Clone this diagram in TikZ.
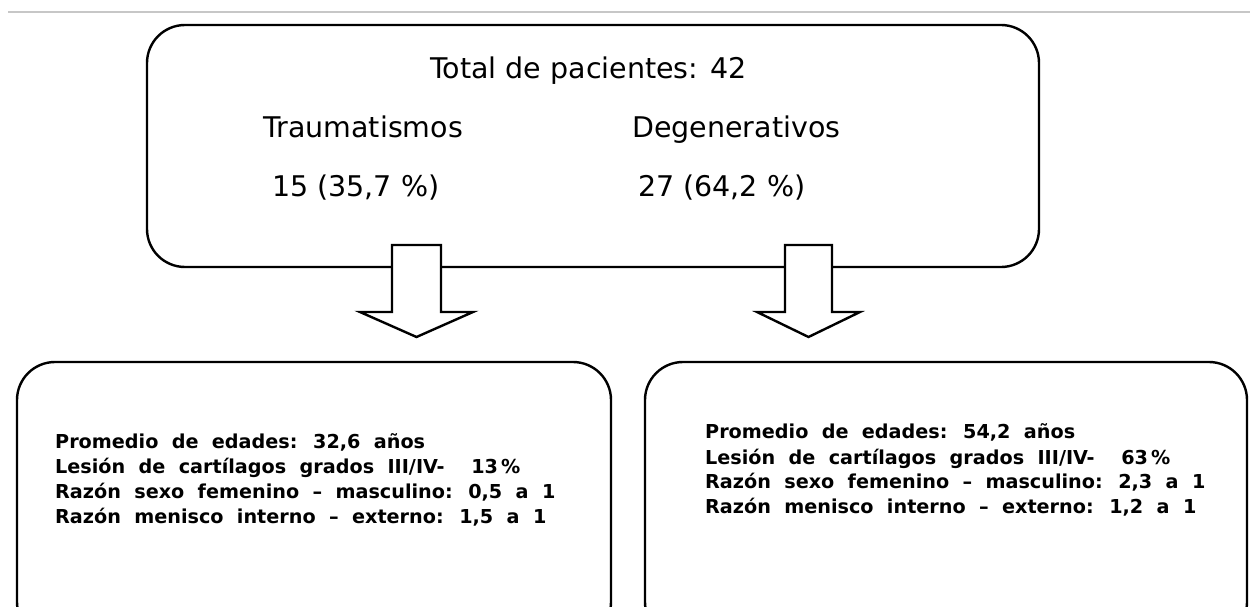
\documentclass[tikz,border=0pt]{standalone}
\usepackage{fontspec}
\setmainfont{DejaVu Sans}
\newfontfamily\botfont[WordSpace={2.0}]{DejaVu Sans}
\begin{document}
\begin{tikzpicture}[x=1pt,y=-1pt,
  boxline/.style={draw=black,line width=2.4pt,rounded corners=38pt},
  bigarrow/.style={draw=black,fill=white,line width=2.4pt,line join=miter},
  toptext/.style={anchor=base west,inner sep=0pt,font=\fontsize{28.5}{34}\selectfont},
  bottext/.style={anchor=base west,inner sep=0pt,font=\botfont\fontsize{19.2}{25}\selectfont\bfseries}]
\useasboundingbox (0,0) rectangle (1250,607);
\clip (0,0) rectangle (1250,607);
% top rule
\draw[black!22,line width=2pt] (8,12) -- (1250,12);
% top box
\draw[boxline] (147,25) rectangle (1039,267);
\node[toptext] (total) at (430,79) {Total de pacientes: 42};
\node[toptext] (trauma) at (263,138) {Traumatismos};
\node[toptext] (traumaN) at (272,196) {15 (35,7 \%)};
\node[toptext] (degen) at (632,138) {Degenerativos};
\node[toptext] (degenN) at (638,196) {27 (64,2 \%)};
% bottom boxes
\draw[boxline] (17,362) rectangle (611,640);
\draw[boxline] (645,362) rectangle (1247,640);
% arrows
\draw[bigarrow] (392,245) -- (441,245) -- (441,312) -- (473,312) -- (416.5,337) -- (360,312) -- (392,312) -- cycle;
\draw[bigarrow] (785,245) -- (832,245) -- (832,312) -- (860,312) -- (808.5,337) -- (757,312) -- (785,312) -- cycle;
% left text
\node[bottext] (la) at (55,448) {Promedio de edades: 32,6 años};
\node[bottext] (lb) at (55,473) {Lesión de cartílagos grados III/IV-\ \ 13\,\%};
\node[bottext] (lc) at (55,498) {Razón sexo femenino – masculino: 0,5 a 1};
\node[bottext] (ld) at (55,523) {Razón menisco interno – externo: 1,5 a 1};
% right text
\node[bottext] (ra) at (705,438) {Promedio de edades: 54,2 años};
\node[bottext] (rb) at (705,464) {Lesión de cartílagos grados III/IV-\ \ 63\,\%};
\node[bottext] (rc) at (705,488) {Razón sexo femenino – masculino: 2,3 a 1};
\node[bottext] (rd) at (705,513) {Razón menisco interno – externo: 1,2 a 1};
\end{tikzpicture}
\end{document}
